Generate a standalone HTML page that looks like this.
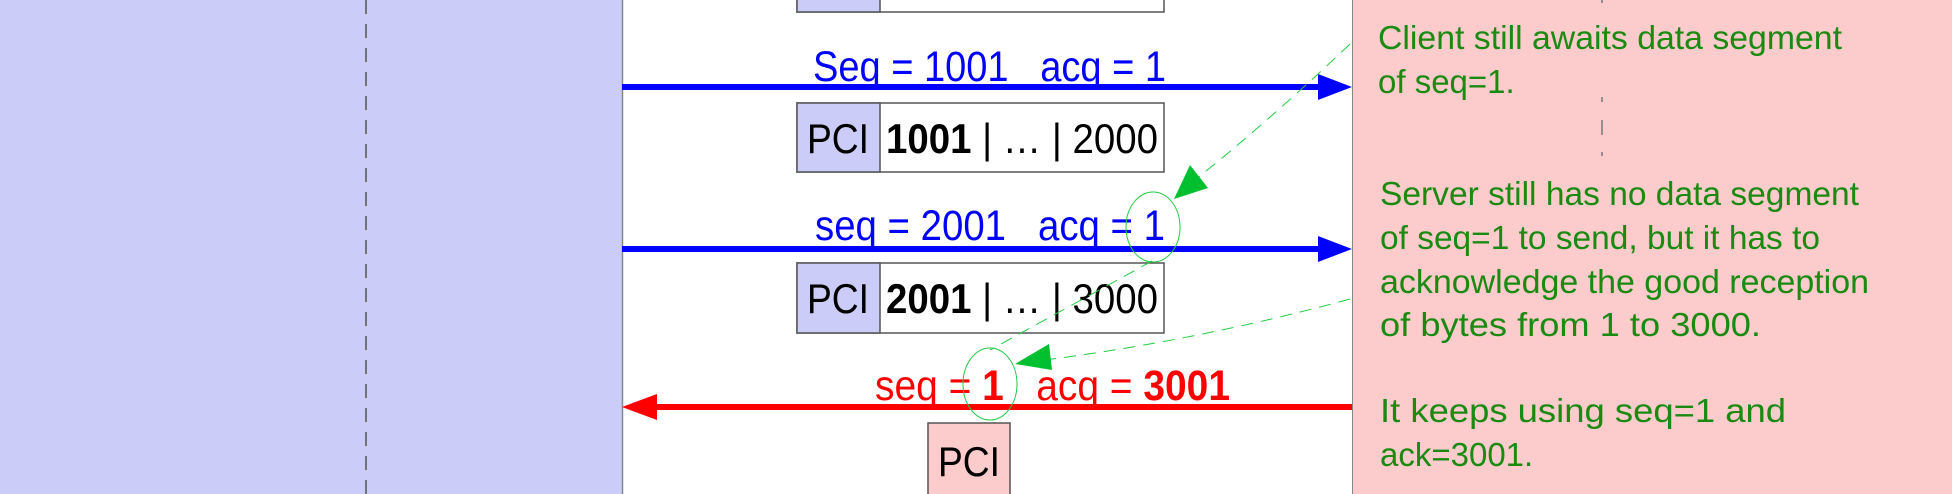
<!DOCTYPE html>
<html><head><meta charset="utf-8"><style>
html,body{margin:0;padding:0;background:#fff;}
svg{display:block;font-family:"Liberation Sans",sans-serif;}
</style></head><body>
<svg width="1952" height="494" viewBox="0 0 1952 494" xmlns="http://www.w3.org/2000/svg">
<rect x="0" y="0" width="622" height="494" fill="#ccccf8"/>
<line x1="366" y1="0" x2="366" y2="494" stroke="#555" stroke-width="1.5" stroke-dasharray="14,10"/>
<rect x="622" y="0" width="730" height="494" fill="#fff"/>
<line x1="622.5" y1="0" x2="622.5" y2="494" stroke="#888" stroke-width="1.5"/>
<rect x="1352" y="0" width="600" height="494" fill="#fccbcb"/>
<line x1="1352.5" y1="0" x2="1352.5" y2="494" stroke="#888" stroke-width="1"/>
<line x1="1602" y1="0" x2="1602" y2="157" stroke="#777" stroke-width="1.5" stroke-dasharray="3,94,5,18,15,17,4,400"/>

<!-- top box -->
<rect x="797" y="-10" width="367" height="22" fill="#fff" stroke="#555" stroke-width="1.5"/>
<rect x="797" y="-10" width="83" height="22" fill="#ccccf8" stroke="#555" stroke-width="1.5"/>

<!-- arrow 1 -->
<text x="813" y="81" font-size="43" fill="#0000ff" textLength="353" lengthAdjust="spacingAndGlyphs" xml:space="preserve">Seq = 1001   acq = 1</text>
<line x1="622" y1="87" x2="1320" y2="87" stroke="#0000ff" stroke-width="6"/>
<polygon points="1318,74 1352,87 1318,100" fill="#0000ff"/>
<rect x="797" y="103" width="367" height="69" fill="#fff" stroke="#555" stroke-width="1.5"/>
<rect x="797" y="103" width="83" height="69" fill="#ccccf8" stroke="#555" stroke-width="1.5"/>
<text x="838" y="153" font-size="42" text-anchor="middle" textLength="62" lengthAdjust="spacingAndGlyphs">PCI</text>
<text x="886" y="153" font-size="42" textLength="272" lengthAdjust="spacingAndGlyphs"><tspan font-weight="bold">1001</tspan> | … | 2000</text>

<!-- arrow 2 -->
<text x="815" y="240" font-size="43" fill="#0000ff" textLength="350" lengthAdjust="spacingAndGlyphs" xml:space="preserve">seq = 2001   acq = 1</text>
<line x1="622" y1="249" x2="1320" y2="249" stroke="#0000ff" stroke-width="6"/>
<polygon points="1318,236 1352,249 1318,262" fill="#0000ff"/>
<rect x="797" y="263" width="367" height="70" fill="#fff" stroke="#555" stroke-width="1.5"/>
<rect x="797" y="263" width="83" height="70" fill="#ccccf8" stroke="#555" stroke-width="1.5"/>
<text x="838" y="313" font-size="42" text-anchor="middle" textLength="62" lengthAdjust="spacingAndGlyphs">PCI</text>
<text x="886" y="313" font-size="42" textLength="272" lengthAdjust="spacingAndGlyphs"><tspan font-weight="bold">2001</tspan> | … | 3000</text>

<!-- red arrow -->
<text x="875" y="400" font-size="43" fill="#ff0000" textLength="355" lengthAdjust="spacingAndGlyphs" xml:space="preserve">seq = <tspan font-weight="bold">1</tspan>   acq = <tspan font-weight="bold">3001</tspan></text>
<line x1="655" y1="407" x2="1352" y2="407" stroke="#ff0000" stroke-width="6"/>
<polygon points="657,394 622,407 657,420" fill="#ff0000"/>
<rect x="928" y="423" width="82" height="72" fill="#fccbcb" stroke="#555" stroke-width="1.5"/>
<text x="969" y="476" font-size="42" text-anchor="middle" textLength="62" lengthAdjust="spacingAndGlyphs">PCI</text>

<!-- green annotations -->
<ellipse cx="1153" cy="227" rx="27" ry="35" fill="none" stroke="#22cc44" stroke-width="1"/>
<ellipse cx="990" cy="384" rx="27" ry="36" fill="none" stroke="#22cc44" stroke-width="1"/>
<path d="M1350,44 Q1270,120 1195,180" fill="none" stroke="#22cc44" stroke-width="1" stroke-dasharray="12,8"/>
<polygon points="1174,199 1190,165 1208,188" fill="#00c030"/>
<path d="M1350,299 Q1200,340 1045,360" fill="none" stroke="#22cc44" stroke-width="1" stroke-dasharray="12,8"/>
<polygon points="1015,364 1049,344 1052,370" fill="#00c030"/>
<path d="M1152,261 L990,350" fill="none" stroke="#22cc44" stroke-width="1" stroke-dasharray="12,8"/>

<g font-size="33" fill="#1a8a10">
<text x="1378" y="49" textLength="464" lengthAdjust="spacingAndGlyphs">Client still awaits data segment</text>
<text x="1378" y="93">of seq=1.</text>
<text x="1380" y="205" textLength="479" lengthAdjust="spacingAndGlyphs">Server still has no data segment</text>
<text x="1380" y="249" textLength="440" lengthAdjust="spacingAndGlyphs">of seq=1 to send, but it has to</text>
<text x="1380" y="293" textLength="489" lengthAdjust="spacingAndGlyphs">acknowledge the good reception</text>
<text x="1380" y="336" textLength="381" lengthAdjust="spacingAndGlyphs">of bytes from 1 to 3000.</text>
<text x="1380" y="422" textLength="406" lengthAdjust="spacingAndGlyphs">It keeps using seq=1 and</text>
<text x="1380" y="466">ack=3001.</text>
</g>
</svg>
</body></html>
